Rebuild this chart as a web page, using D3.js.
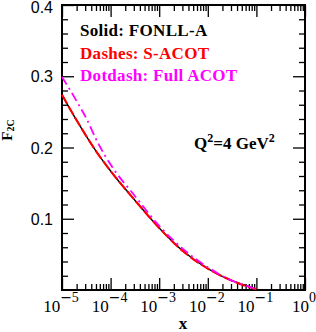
<!DOCTYPE html>
<html>
<head>
<meta charset="utf-8">
<script src="https://cdn.jsdelivr.net/npm/d3@7"></script>
<style>
  body { margin: 0; background: #fff; }
  svg { display: block; }
</style>
</head>
<body>
<div id="chart"></div>
<script>
const xValues = [1e-5, 1.78e-5, 3.16e-5, 5.62e-5, 1e-4, 3.16e-4, 1e-3, 3.16e-3, 1e-2, 3.16e-2, 6.3e-2, 1e-1];
const fonllA = [0.274, 0.244, 0.216, 0.190, 0.167, 0.126, 0.087, 0.054, 0.030, 0.013, 0.006, 0.001];
const sAcot = [0.274, 0.244, 0.216, 0.190, 0.167, 0.126, 0.087, 0.054, 0.030, 0.013, 0.005, 0.001];
const fullAcot = [0.299, 0.271, 0.241, 0.205, 0.176, 0.132, 0.090, 0.057, 0.032, 0.013, 0.006, 0.001];

const xMajor = [1e-5, 1e-4, 1e-3, 1e-2, 1e-1, 1];
const xExponents = ["\u22125", "\u22124", "\u22123", "\u22122", "\u22121", "0"];
const yMajor = [0.1, 0.2, 0.3, 0.4];
const yLabels = ["0.1", "0.2", "0.3", "0.4"];

const legend = [
  { text: "Solid: FONLL-A", color: "#000" },
  { text: "Dashes: S-ACOT", color: "#ff0000" },
  { text: "Dotdash: Full ACOT", color: "#ff00ff" }
];

const W = 316, H = 332;
const margin = { left: 62, right: 11, top: 5, bottom: 42 };
const SERIF = "Liberation Serif, Times New Roman, serif";

const svg = d3.select("#chart").append("svg")
  .attr("width", W).attr("height", H);

const x = d3.scaleLog().domain([1e-5, 1]).range([margin.left, W - margin.right]);
const y = d3.scaleLinear().domain([0, 0.4]).range([H - margin.bottom, margin.top]);

// minor ticks
const xMinor = [];
for (let e = -5; e < 0; e++) {
  for (let m = 2; m <= 9; m++) xMinor.push(m * Math.pow(10, e));
}
const yMinor = d3.range(0, 0.401, 0.02).filter(v => Math.abs(v * 10 - Math.round(v * 10)) > 1e-6);

const tickStyle = g => {
  g.select(".domain").remove();
  g.selectAll("line").attr("stroke", "#000").attr("stroke-width", 1.3);
};

const yBottom = y.range()[0], yTop = y.range()[1];

const addAxis = (axis, transform, values, size) => {
  svg.append("g").attr("transform", transform)
    .call(axis.tickValues(values).tickSize(-size).tickFormat(""))
    .call(tickStyle);
};

addAxis(d3.axisBottom(x), `translate(0,${yBottom})`, xMajor, 12);
addAxis(d3.axisBottom(x), `translate(0,${yBottom})`, xMinor, 6);
addAxis(d3.axisTop(x), `translate(0,${yTop})`, xMajor, 12);
addAxis(d3.axisTop(x), `translate(0,${yTop})`, xMinor, 6);
addAxis(d3.axisLeft(y), `translate(${margin.left},0)`, yMajor, 12);
addAxis(d3.axisLeft(y), `translate(${margin.left},0)`, yMinor, 6);
addAxis(d3.axisRight(y), `translate(${W - margin.right},0)`, yMajor, 12);
addAxis(d3.axisRight(y), `translate(${W - margin.right},0)`, yMinor, 6);

// y tick labels
svg.append("g").selectAll("text")
  .data(yMajor)
  .join("text")
  .attr("x", margin.left - 9)
  .attr("y", d => Math.max(y(d) + 6, 12.5))
  .attr("text-anchor", "end")
  .attr("font-family", "Liberation Sans, Arial, sans-serif")
  .attr("font-size", 16)
  .text((d, i) => yLabels[i]);

// x tick labels: 10^n (wide minus sign like the original)
svg.append("g").selectAll("text")
  .data(xMajor)
  .join("text")
  .attr("x", d => x(d) - 1)
  .attr("y", 312)
  .attr("text-anchor", "middle")
  .attr("font-family", SERIF)
  .attr("font-size", 17)
  .each(function (d, i) {
    const t = d3.select(this);
    const exp = xExponents[i];
    t.append("tspan").text("10");
    if (exp.length > 1) {
      t.append("tspan").attr("dy", -10).attr("font-size", 14)
        .attr("font-family", "DejaVu Sans, sans-serif")
        .text(exp[0]);
      t.append("tspan").attr("font-size", 14).text(exp.slice(1));
    } else {
      t.append("tspan").attr("dy", -10).attr("font-size", 14).text(exp);
    }
  });

// frame
svg.append("rect")
  .attr("x", margin.left).attr("y", margin.top)
  .attr("width", W - margin.left - margin.right)
  .attr("height", H - margin.top - margin.bottom)
  .attr("fill", "none").attr("stroke", "#000").attr("stroke-width", 2);

// curves
const line = vals => d3.line()
  .x((d, i) => x(xValues[i]))
  .y(d => y(d))
  .curve(d3.curveMonotoneX)(vals);

const plot = svg.append("g");
plot.append("path").attr("d", line(fonllA))
  .attr("fill", "none").attr("stroke", "#000").attr("stroke-width", 1.4);
plot.append("path").attr("d", line(sAcot))
  .attr("fill", "none").attr("stroke", "#ff0000").attr("stroke-width", 2.1)
  .attr("stroke-dasharray", "10,3");
plot.append("path").attr("d", line(fullAcot))
  .attr("fill", "none").attr("stroke", "#ff00ff").attr("stroke-width", 1.8)
  .attr("stroke-dasharray", "9,4,2,4");

// legend
svg.append("g").selectAll("text")
  .data(legend)
  .join("text")
  .attr("x", 80)
  .attr("y", (d, i) => 36 + i * 22.5)
  .attr("fill", d => d.color)
  .attr("font-family", SERIF)
  .attr("font-weight", "bold")
  .attr("font-size", 17)
  .attr("letter-spacing", 0.3)
  .text(d => d.text);

// Q^2 annotation
const q = svg.append("text")
  .attr("x", 194).attr("y", 149)
  .attr("font-family", SERIF)
  .attr("font-weight", "bold")
  .attr("font-size", 17);
q.append("tspan").text("Q");
q.append("tspan").attr("dy", -7).attr("font-size", 12).text("2");
q.append("tspan").attr("dy", 7).text("=4 GeV");
q.append("tspan").attr("dy", -7).attr("font-size", 12).text("2");

// axis titles
svg.append("text")
  .attr("x", 183).attr("y", 329)
  .attr("text-anchor", "middle")
  .attr("font-family", SERIF)
  .attr("font-weight", "bold")
  .attr("font-size", 17)
  .text("x");

const yt = svg.append("text")
  .attr("transform", "translate(12,130) rotate(-90)")
  .attr("text-anchor", "middle")
  .attr("font-family", SERIF)
  .attr("font-weight", "bold")
  .attr("font-size", 15);
yt.append("tspan").text("F");
yt.append("tspan").attr("dy", 2).attr("font-size", 10).text("2C");
</script>
</body>
</html>
